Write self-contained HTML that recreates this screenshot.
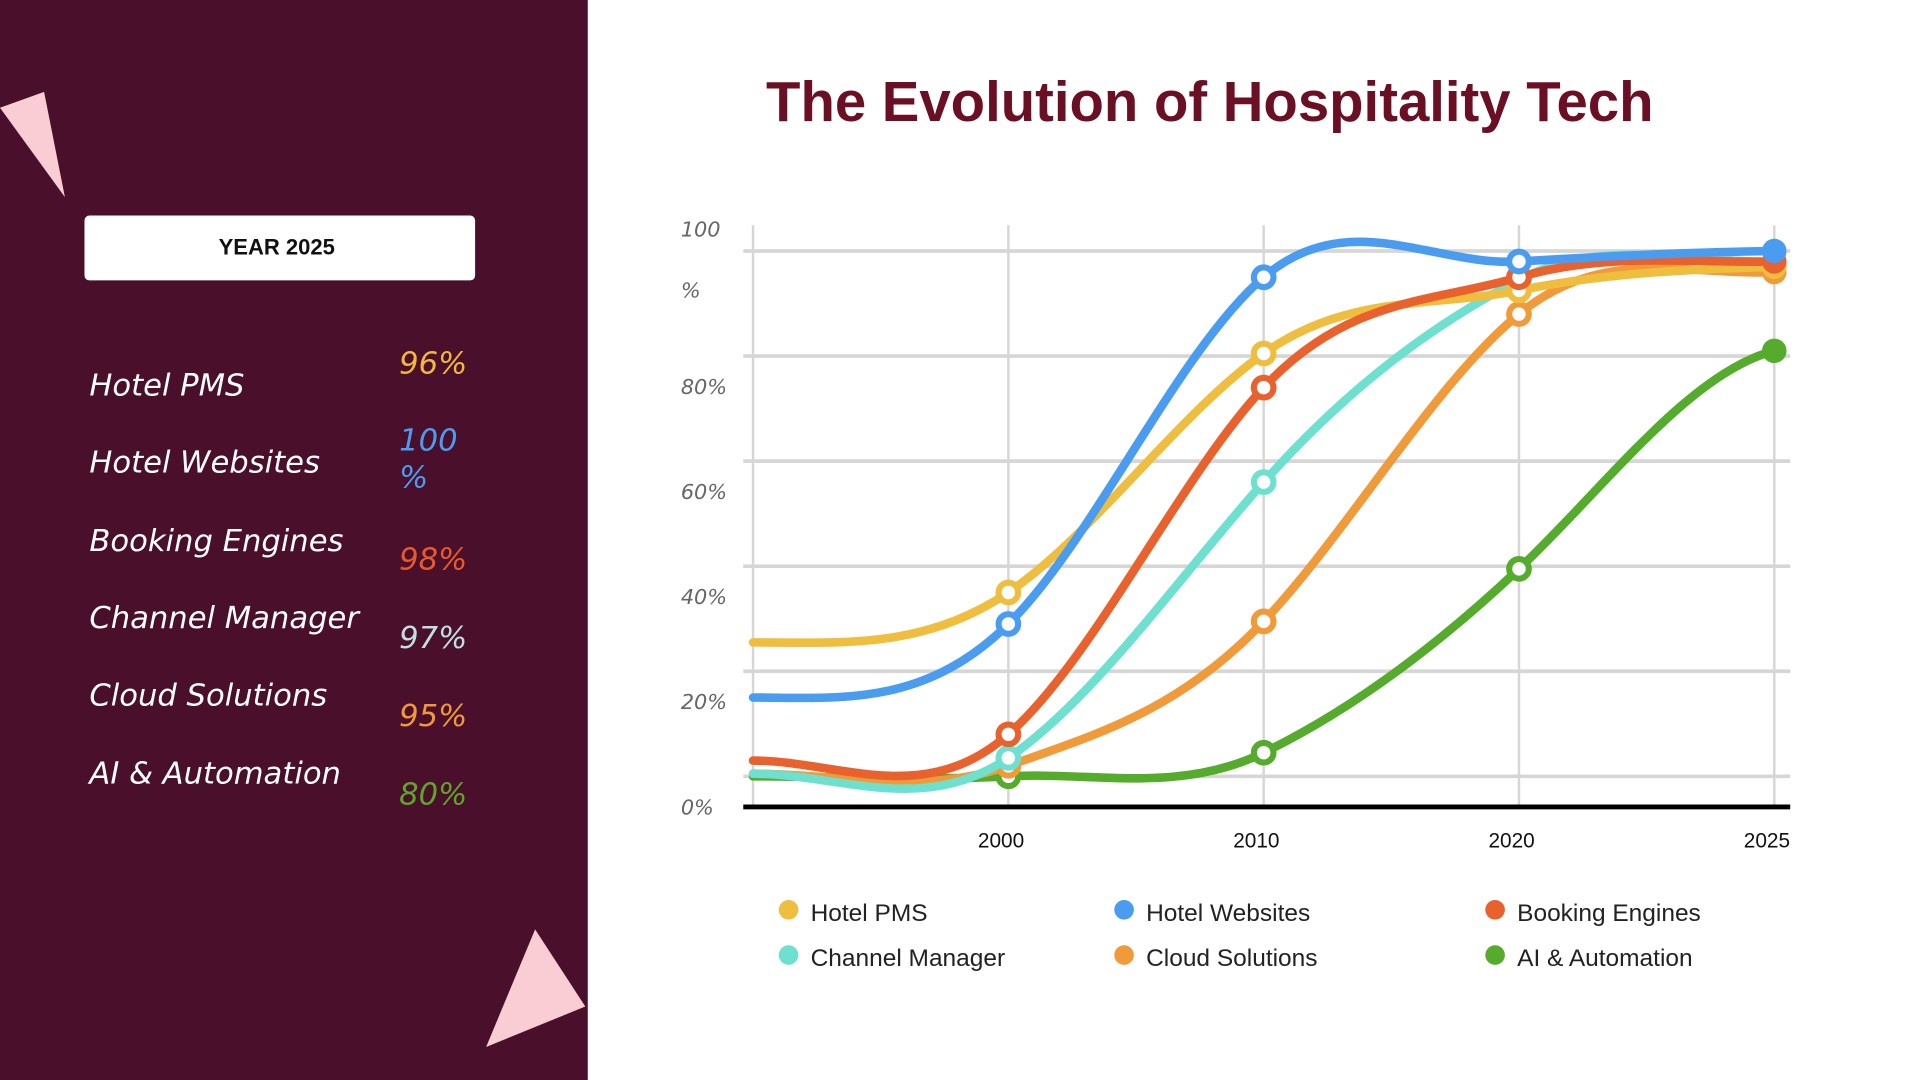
<!DOCTYPE html>
<html><head><meta charset="utf-8"><style>
html,body{margin:0;padding:0;width:1920px;height:1080px;overflow:hidden;background:#fff}
svg{display:block}
.hand{font-family:"DejaVu Sans","Liberation Sans",sans-serif;font-style:oblique}
.sans{font-family:"Liberation Sans",sans-serif}
</style></head><body>
<svg id="slide" width="1920" height="1080" viewBox="0 0 1568 882" xmlns="http://www.w3.org/2000/svg">
  <rect x="0" y="0" width="480" height="882" fill="#4a0f2b"/>
  <polygon points="0,88 36,75 53,161" fill="#f9cdd3"/>
  <polygon points="437,759 478,822 397,855" fill="#f9cdd3"/>
  <rect x="69" y="176" width="319" height="53" rx="4" fill="#fff"/>
  <text x="226" y="208" text-anchor="middle" class="sans" font-weight="bold" font-size="18" fill="#111">YEAR 2025</text>
  <g id="sideList"></g>
  <text x="988" y="99" text-anchor="middle" class="sans" font-weight="bold" font-size="46" fill="#6b0f24">The Evolution of Hospitality Tech</text>
  <g id="chart"></g>
  <g id="legend"></g>
</svg>
<script>
const categories = ["", "2000", "2010", "2020", "2025"];
const seriesNames = ["Hotel PMS","Hotel Websites","Booking Engines","Channel Manager","Cloud Solutions","AI & Automation"];
const seriesColors = ["#efbe3f","#4a9cf0","#e9612c","#6ee0cf","#f09a3a","#55ab2c"];
const pmsValues = [25.5, 35, 80.5, 92.5, 97];
const websitesValues = [15, 29, 95, 98, 100];
const bookingValues = [3, 8, 74, 95, 98];
const channelValues = [0.5, 3.5, 56, 94.5, 98];
const cloudValues = [0.5, 2, 29.5, 88, 96];
const aiValues = [0, 0, 4.5, 39.5, 81];
const sideValues = ["96%", "100%", "98%", "97%", "95%", "80%"];
const sideValueColors = ["#f0b93e","#4a9cf0","#e85a2a","#bfe0e0","#f0993a","#5da62a"];
const yTickValues = [0, 20, 40, 60, 80, 100];
const yTickLabels = ["0%","20%","40%","60%","80%","100 %"];

const NS = "http://www.w3.org/2000/svg";
function mk(tag, attrs, parent){const e=document.createElementNS(NS,tag);for(const k in attrs)e.setAttribute(k,attrs[k]);parent.appendChild(e);return e;}

const X0=615, X1=1449, Y0=634, YPER=4.29;
function xScale(i){return X0 + i*(X1-X0)/(categories.length-1);}
function yScale(v){return Y0 - v*YPER;}

const chart=document.getElementById('chart');
yTickValues.forEach((v,i)=>{
  const l=mk('line',{x1:607,x2:1462,y1:yScale(v),y2:yScale(v),stroke:'#d6d6d6','stroke-width':3},chart);
  
  
  const t=mk('text',{x:556,y:yScale(v)+(v===100?-12:31),'font-size':17,fill:'#666',class:'hand'},chart);
  t.textContent = v===100 ? "100" : yTickLabels[i];
  
  
  if(v===100){
    const t2=mk('text',{x:556,y:yScale(v)+38,'font-size':17,fill:'#666',class:'hand'},chart);
    t2.textContent="%";
    
    
  }
});
categories.forEach((c,i)=>{
  const l=mk('line',{x1:xScale(i),x2:xScale(i),y1:184,y2:660,stroke:'#d6d6d6','stroke-width':2},chart);
  
  
  if(c){
    const t=mk('text',{x:xScale(i)-6,y:692,'text-anchor':'middle','font-size':17,fill:'#111',class:'sans'},chart);
    t.textContent=c;
    
    
  }
});
const base=mk('line',{x1:607,x2:1462,y1:659,y2:659,stroke:'#000','stroke-width':4},chart);



function pathFor(vals){
  const p=vals.map((v,i)=>[xScale(i),yScale(v)]);
  const k=5;
  let d=`M${p[0][0]},${p[0][1]}`;
  for(let i=0;i<p.length-1;i++){
    const p0=p[Math.max(0,i-1)],p1=p[i],p2=p[i+1],p3=p[Math.min(p.length-1,i+2)];
    const dx=(p2[0]-p1[0])/3;
    const c1=[p1[0]+dx,p1[1]+(i===0?0:(p2[1]-p0[1])/k)];
    const c2=[p2[0]-dx,p2[1]-(p3[1]-p1[1])/k*(i===p.length-2?0.5:1)];
    d+=` C${c1[0]},${c1[1]} ${c2[0]},${c2[1]} ${p2[0]},${p2[1]}`;
  }
  return d;
}
const allSeries=[pmsValues,websitesValues,bookingValues,channelValues,cloudValues,aiValues];
const drawOrder=[5,4,3,0,2,1];
drawOrder.forEach(si=>{
  const vals=allSeries[si], col=seriesColors[si];
  const g=mk('g',{},chart);
  
  
  const path=mk('path',{d:pathFor(vals),fill:'none',stroke:col,'stroke-width':7,'stroke-linecap':'round'},g);
  
  
  vals.forEach((v,i)=>{
    if(i===0)return;
    const last=i===vals.length-1;
    const c=mk('circle',{cx:xScale(i),cy:yScale(v),r:last?9:8,fill:last?col:'#fff',stroke:col,'stroke-width':last?2:5},g);
    
    
  });
});

const legend=document.getElementById('legend');
const legX=[644,918,1221], legY=[743,780];
seriesNames.forEach((n,i)=>{
  const cx=legX[i%3], cy=legY[Math.floor(i/3)];
  const g=mk('g',{},legend);
  
  
  mk('circle',{cx:cx,cy:cy,r:8,fill:seriesColors[i]},g);
  const t=mk('text',{x:cx+18,y:cy+9,'font-size':20,fill:'#222',class:'sans'},g);
  t.textContent=n;
});

const side=document.getElementById('sideList');
const labelY=[323,386,450,513,576,640], valY=[305,368,465,529,593,657];
seriesNames.forEach((n,i)=>{
  const t=mk('text',{x:73,y:labelY[i],'font-size':25,fill:'#fff',class:'hand'},side);
  t.textContent=n;
  
  
  if(sideValues[i]==="100%"){
    const a=mk('text',{x:326,y:valY[i],'font-size':25,fill:sideValueColors[i],class:'hand'},side);
    a.textContent="100";
    
    
    const b=mk('text',{x:326,y:valY[i]+30,'font-size':25,fill:sideValueColors[i],class:'hand'},side);
    b.textContent="%";
    
    
  } else {
    const a=mk('text',{x:326,y:valY[i],'font-size':25,fill:sideValueColors[i],class:'hand'},side);
    a.textContent=sideValues[i];
    
    
  }
});
</script>
</body></html>
